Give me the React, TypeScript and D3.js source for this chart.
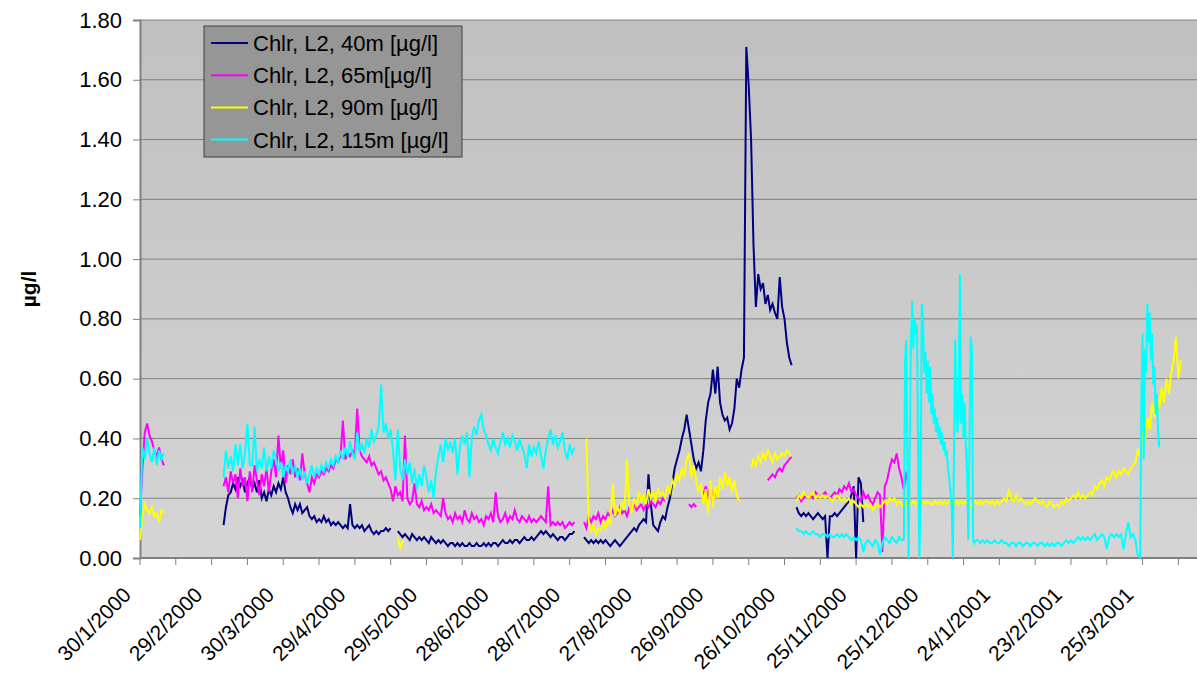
import React, { useEffect, useRef } from "react";
import * as d3 from "d3";

// one point per `step` hours from `start`; gaps in the record = separate segments
type Segment = { start: string; step?: number; values: number[] };

const seriesNames = [
  "Chlr, L2, 40m [µg/l]",
  "Chlr, L2, 65m[µg/l]",
  "Chlr, L2, 90m [µg/l]",
  "Chlr, L2, 115m [µg/l]",
];
const seriesColors = ["#000080", "#ff00ff", "#ffff00", "#00ffff"];

const yTicks = [0, 0.2, 0.4, 0.6, 0.8, 1.0, 1.2, 1.4, 1.6, 1.8];

// 40 m
const chl40: Segment[] = [
  {
    start: "2000-03-05",
    values: [
      0.11, 0.17, 0.21, 0.22, 0.25, 0.23, 0.27, 0.24, 0.26, 0.22,
      0.25, 0.27, 0.23, 0.25, 0.22, 0.26, 0.2, 0.22, 0.19, 0.23,
      0.21, 0.24, 0.22, 0.25, 0.23, 0.27, 0.22, 0.2, 0.17, 0.15,
      0.18, 0.16, 0.18, 0.15, 0.16, 0.17, 0.14, 0.13, 0.14, 0.12,
      0.13, 0.12, 0.14, 0.12, 0.13, 0.11, 0.12, 0.11, 0.12, 0.11,
      0.1, 0.11, 0.1, 0.18, 0.11, 0.1, 0.11, 0.1, 0.11, 0.09,
      0.1, 0.11, 0.09, 0.08, 0.09, 0.08, 0.09, 0.09, 0.1, 0.09,
      0.1,
    ],
  },
  {
    start: "2000-05-17",
    values: [
      0.09, 0.08, 0.07, 0.08, 0.07, 0.06, 0.08, 0.07, 0.06, 0.07,
      0.06, 0.07, 0.06, 0.05, 0.07, 0.06, 0.05, 0.06, 0.05, 0.06,
      0.05, 0.04, 0.05, 0.05, 0.04, 0.05, 0.04, 0.05, 0.04, 0.04,
      0.05, 0.04, 0.04, 0.05, 0.04, 0.04, 0.05, 0.04, 0.05, 0.04,
      0.05, 0.05, 0.04, 0.05, 0.06, 0.05, 0.05, 0.06, 0.05, 0.06,
      0.06, 0.05, 0.06, 0.07, 0.06, 0.06, 0.07, 0.06, 0.07, 0.08,
      0.09, 0.08, 0.09, 0.08, 0.07, 0.08, 0.07, 0.06, 0.07, 0.07,
      0.06, 0.07, 0.08, 0.08, 0.09,
    ],
  },
  {
    start: "2000-08-03",
    values: [
      0.07, 0.06, 0.05, 0.06, 0.05, 0.06, 0.05, 0.06, 0.05, 0.06,
      0.05, 0.04, 0.05, 0.06, 0.05, 0.04, 0.05, 0.06, 0.07, 0.08,
      0.09, 0.1, 0.09, 0.11, 0.12, 0.13, 0.12, 0.28, 0.18, 0.11,
      0.1, 0.09, 0.12, 0.14, 0.13, 0.17, 0.2, 0.25, 0.3, 0.33,
      0.36, 0.4, 0.43, 0.48, 0.43, 0.38, 0.33, 0.3, 0.32, 0.29,
      0.36, 0.46, 0.52, 0.55, 0.63, 0.55, 0.64, 0.52, 0.48, 0.46,
      0.47, 0.43, 0.45, 0.5, 0.6, 0.57, 0.63, 0.67, 1.71, 1.58,
      1.4, 1.05, 0.84, 0.95, 0.9, 0.92, 0.85, 0.88, 0.83, 0.85,
      0.82, 0.8, 0.94, 0.84, 0.8, 0.72, 0.67, 0.645,
    ],
  },
  {
    start: "2000-10-31",
    values: [
      0.17, 0.15, 0.14, 0.15, 0.14, 0.15, 0.14, 0.13, 0.14, 0.15,
      0.14, 0.13, 0.14, 0.0, 0.14, 0.14, 0.15, 0.14, 0.15, 0.16,
      0.17, 0.18, 0.19, 0.21, 0.24, 0.0, 0.27, 0.25, 0.12,
    ],
  },
];

// 65 m
const chl65: Segment[] = [
  {
    start: "2000-01-30",
    values: [0.14, 0.3, 0.42, 0.45, 0.41, 0.39, 0.36, 0.34, 0.37, 0.33, 0.31],
  },
  {
    start: "2000-03-05",
    values: [
      0.24, 0.27, 0.22, 0.29, 0.25, 0.28, 0.2, 0.3, 0.24, 0.27,
      0.19, 0.29, 0.22, 0.31, 0.26, 0.21, 0.28, 0.24, 0.3, 0.22,
      0.29, 0.33, 0.27, 0.41, 0.3, 0.36, 0.25, 0.31, 0.28, 0.33,
      0.27, 0.3, 0.26, 0.35, 0.28, 0.25, 0.22, 0.27, 0.25, 0.28,
      0.27, 0.29, 0.28, 0.3, 0.29, 0.31, 0.3, 0.33, 0.32, 0.34,
      0.46, 0.33, 0.35, 0.34, 0.36, 0.35, 0.5, 0.36, 0.34, 0.33,
      0.32, 0.34, 0.31, 0.32, 0.3, 0.28, 0.29, 0.26, 0.27, 0.25,
      0.23, 0.19, 0.24, 0.21, 0.22, 0.19, 0.41, 0.2, 0.18, 0.19,
      0.25, 0.18, 0.17, 0.19, 0.16, 0.17, 0.16, 0.18, 0.15, 0.16,
      0.15, 0.14, 0.2, 0.15, 0.13, 0.14, 0.12, 0.15, 0.13, 0.14,
      0.12, 0.16, 0.13, 0.12, 0.15, 0.13, 0.14, 0.12, 0.13, 0.11,
      0.14, 0.13, 0.15, 0.12, 0.22, 0.14, 0.12, 0.13, 0.15, 0.12,
      0.14, 0.13, 0.16, 0.13, 0.12, 0.14, 0.13, 0.12, 0.14, 0.12,
      0.13, 0.12, 0.13, 0.14, 0.13, 0.12, 0.24, 0.11, 0.12, 0.11,
      0.12, 0.11, 0.12, 0.1, 0.11, 0.12, 0.11, 0.12,
    ],
  },
  {
    start: "2000-08-03",
    values: [
      0.12, 0.1, 0.14, 0.12, 0.14, 0.13, 0.15, 0.12, 0.14, 0.13,
      0.15, 0.14, 0.16, 0.14, 0.15, 0.17, 0.15, 0.16, 0.14, 0.17,
      0.16, 0.18, 0.16, 0.17, 0.18, 0.16, 0.18, 0.17, 0.19, 0.18,
      0.17, 0.19, 0.18, 0.2, 0.19,
    ],
  },
  { start: "2000-09-16", values: [0.18, 0.17, 0.18, 0.17] },
  { start: "2000-09-22", values: [0.21, 0.24, 0.19, 0.25, 0.18, 0.23, 0.2] },
  {
    start: "2000-10-19",
    values: [0.26, 0.27, 0.28, 0.27, 0.29, 0.3, 0.29, 0.31, 0.32, 0.33, 0.34],
  },
  {
    start: "2000-10-31",
    values: [
      0.2, 0.21, 0.19, 0.2, 0.21, 0.2, 0.21, 0.2, 0.22, 0.21,
      0.2, 0.21, 0.22, 0.21, 0.2, 0.21, 0.22, 0.21, 0.23, 0.22,
      0.24, 0.23, 0.25, 0.22, 0.23, 0.21, 0.2, 0.19, 0.22, 0.2,
      0.21, 0.19, 0.18, 0.2, 0.22, 0.21, 0.02, 0.24, 0.26, 0.3,
      0.33, 0.32, 0.35, 0.3, 0.27, 0.23, 0.28, 0.26,
    ],
  },
];

// 90 m
const chl90: Segment[] = [
  {
    start: "2000-01-30",
    values: [0.06, 0.14, 0.18, 0.16, 0.15, 0.17, 0.14, 0.15, 0.12, 0.16, 0.15],
  },
  { start: "2000-05-17", values: [0.07, 0.03, 0.06] },
  {
    start: "2000-08-04",
    values: [
      0.4, 0.12, 0.09, 0.11, 0.08, 0.1, 0.09, 0.12, 0.1, 0.13,
      0.11, 0.25, 0.14, 0.17, 0.15, 0.19, 0.16, 0.33, 0.18, 0.15,
      0.2, 0.17, 0.22, 0.19, 0.21, 0.18, 0.23, 0.2, 0.22, 0.19,
      0.23, 0.21, 0.22, 0.2, 0.24, 0.22, 0.26, 0.24, 0.28, 0.26,
      0.3, 0.27, 0.33, 0.35, 0.27, 0.31, 0.26, 0.22, 0.25, 0.18,
      0.23, 0.15, 0.26, 0.17, 0.24, 0.2, 0.27, 0.23, 0.29, 0.24,
      0.27, 0.22, 0.26, 0.21, 0.19,
    ],
  },
  {
    start: "2000-10-12",
    values: [
      0.3, 0.33, 0.31, 0.34, 0.32, 0.35, 0.33, 0.36, 0.34, 0.32,
      0.35, 0.33, 0.34, 0.35, 0.34, 0.36, 0.35, 0.34,
    ],
  },
  {
    start: "2000-10-31",
    values: [
      0.19, 0.21, 0.2, 0.22, 0.21, 0.2, 0.21, 0.22, 0.2, 0.21,
      0.2, 0.21, 0.2, 0.21, 0.2, 0.19, 0.2, 0.21, 0.2, 0.19,
      0.2, 0.19, 0.2, 0.18, 0.19, 0.18, 0.17, 0.18, 0.17, 0.18,
      0.17, 0.18, 0.16, 0.17, 0.18, 0.17, 0.18, 0.19, 0.18, 0.2,
      0.19, 0.2, 0.18, 0.19, 0.18, 0.17, 0.18, 0.19, 0.18, 0.19,
      0.18, 0.19, 0.18, 0.19, 0.18, 0.19, 0.18, 0.18, 0.19, 0.18,
      0.19, 0.18, 0.19, 0.18, 0.19, 0.19, 0.18, 0.19, 0.18, 0.19,
      0.18, 0.19, 0.18, 0.17, 0.18, 0.19, 0.18, 0.19, 0.18, 0.19,
      0.19, 0.18, 0.19, 0.18, 0.19, 0.18, 0.19, 0.2, 0.19, 0.23,
      0.2, 0.19, 0.21, 0.19, 0.2, 0.19, 0.18, 0.19, 0.18, 0.19,
      0.2, 0.19, 0.18, 0.19, 0.18, 0.17, 0.19, 0.18, 0.17, 0.18,
      0.17, 0.19, 0.18, 0.2, 0.19, 0.2, 0.21, 0.2, 0.22, 0.2,
      0.21, 0.2, 0.21, 0.22, 0.21, 0.24, 0.23, 0.25, 0.26, 0.24,
      0.27, 0.26, 0.28, 0.29, 0.27, 0.29, 0.28, 0.3, 0.29, 0.28,
      0.3, 0.31, 0.32, 0.36, 0.34, 0.42, 0.39, 0.47, 0.43, 0.52,
      0.47, 0.55, 0.5, 0.57, 0.52, 0.6, 0.55, 0.62, 0.66, 0.74,
      0.6, 0.66,
    ],
  },
];

// 115 m (the winter bursts were logged twice a day)
const chl115: Segment[] = [
  {
    start: "2000-01-30",
    values: [0.1, 0.37, 0.33, 0.4, 0.35, 0.32, 0.37, 0.31, 0.36, 0.33, 0.35],
  },
  {
    start: "2000-03-05",
    values: [
      0.27, 0.36, 0.3, 0.34, 0.29, 0.38, 0.31, 0.38, 0.3, 0.35,
      0.45, 0.31, 0.31, 0.44, 0.29, 0.33, 0.3, 0.37, 0.29, 0.34,
      0.3, 0.36, 0.33, 0.29, 0.32, 0.27, 0.31, 0.29, 0.33, 0.28,
      0.31, 0.27, 0.3, 0.26, 0.29, 0.25, 0.28, 0.31, 0.27, 0.3,
      0.28, 0.31, 0.29, 0.32, 0.3, 0.33, 0.31, 0.34, 0.32, 0.36,
      0.33, 0.37, 0.34, 0.39, 0.35, 0.33, 0.42, 0.36, 0.38, 0.35,
      0.4, 0.37, 0.43, 0.39, 0.41, 0.44, 0.58, 0.42, 0.45, 0.4,
      0.43, 0.36, 0.26, 0.43, 0.3, 0.26, 0.33, 0.28, 0.32, 0.25,
      0.3, 0.23, 0.28, 0.24, 0.31, 0.27, 0.22, 0.26, 0.2, 0.29,
      0.34, 0.38, 0.32, 0.4, 0.36, 0.39, 0.35, 0.4, 0.28, 0.37,
      0.41, 0.38, 0.42, 0.27, 0.4, 0.44, 0.41, 0.46, 0.48, 0.43,
      0.41, 0.38, 0.36, 0.4, 0.37, 0.35, 0.39, 0.42, 0.38, 0.4,
      0.37, 0.41, 0.39, 0.36, 0.4, 0.37, 0.35, 0.3, 0.38, 0.34,
      0.37, 0.35, 0.39, 0.34, 0.3, 0.36, 0.4, 0.43, 0.38, 0.41,
      0.37, 0.39, 0.42, 0.36, 0.33, 0.38, 0.35, 0.37,
    ],
  },
  {
    start: "2000-10-31",
    values: [
      0.1, 0.09, 0.09, 0.08, 0.09, 0.08, 0.08, 0.09, 0.08, 0.08,
      0.07, 0.08, 0.08, 0.07, 0.08, 0.07, 0.07, 0.08, 0.07, 0.08,
      0.07, 0.08, 0.07, 0.06, 0.07, 0.06, 0.07, 0.06, 0.02, 0.05,
      0.06, 0.05, 0.04, 0.06, 0.05, 0.01, 0.05, 0.07, 0.06, 0.05,
      0.07, 0.06, 0.05, 0.07, 0.06, 0.06,
    ],
  },
  {
    start: "2000-12-15",
    step: 12,
    values: [
      0.06, 0.66, 0.73, 0.3, 0.0, 0.4, 0.73, 0.86, 0.7, 0.8,
      0.75, 0.78, 0.3, 0.0, 0.2, 0.85, 0.8, 0.62, 0.69, 0.55,
      0.66, 0.52, 0.64, 0.48, 0.55, 0.45, 0.5, 0.42, 0.47, 0.4,
      0.44, 0.38, 0.42, 0.36, 0.39, 0.34, 0.36, 0.3, 0.27, 0.22,
      0.18, 0.0, 0.35, 0.73, 0.5, 0.42, 0.6, 0.95, 0.45, 0.55,
      0.4, 0.52, 0.36, 0.28, 0.06, 0.4, 0.74, 0.7, 0.06, 0.05,
      0.06,
    ],
  },
  {
    start: "2001-01-14",
    values: [
      0.06, 0.06, 0.05, 0.06, 0.05, 0.06, 0.05, 0.05, 0.06, 0.05,
      0.05, 0.06, 0.05, 0.05, 0.04, 0.05, 0.05, 0.04, 0.05, 0.05,
      0.04, 0.05, 0.05, 0.04, 0.05, 0.05, 0.04, 0.05, 0.05, 0.04,
      0.05, 0.04, 0.05, 0.04, 0.05, 0.05, 0.04, 0.05, 0.06, 0.05,
      0.06, 0.05, 0.06, 0.07, 0.06, 0.07, 0.06, 0.07, 0.06, 0.07,
      0.08, 0.06, 0.07, 0.08, 0.07, 0.03, 0.07, 0.08, 0.07, 0.08,
      0.07, 0.08, 0.03, 0.08, 0.12, 0.07, 0.08, 0.06, 0.01, 0.0,
    ],
  },
  {
    start: "2001-03-24",
    step: 12,
    values: [
      0.0, 0.53, 0.75, 0.33, 0.7, 0.62, 0.85, 0.72, 0.82, 0.66,
      0.75, 0.58, 0.64, 0.48, 0.55, 0.42, 0.37,
    ],
  },
];

const allSeries = [chl40, chl65, chl90, chl115];

const DAY = 86400000;
const t0 = Date.UTC(2000, 0, 30);
const toPoints = (s: Segment) => {
  const base = Date.parse(s.start + "T00:00:00Z");
  const stepMs = (s.step ?? 24) * 3600000;
  return s.values.map((v, i) => ({ t: new Date(base + i * stepMs), v }));
};

const W = 1197;
const H = 675;
const plot = { left: 140, top: 20, right: 1197, bottom: 558 };
const FONT = "'Liberation Sans', Arial, sans-serif";

const App: React.FC = () => {
  const ref = useRef<SVGSVGElement>(null);

  useEffect(() => {
    const svg = d3.select(ref.current);
    svg.selectAll("*").remove();

    const x = d3
      .scaleUtc()
      .domain([new Date(t0), new Date(t0 + 442.8 * DAY)])
      .range([plot.left, plot.right]);
    const y = d3.scaleLinear().domain([0, 1.8]).range([plot.bottom, plot.top]);

    const defs = svg.append("defs");
    const grad = defs
      .append("linearGradient")
      .attr("id", "plot-bg")
      .attr("x1", 0)
      .attr("x2", 0)
      .attr("y1", 0)
      .attr("y2", 1);
    grad.append("stop").attr("offset", "0%").attr("stop-color", "#c0c0c0");
    grad.append("stop").attr("offset", "100%").attr("stop-color", "#d5d5d5");

    svg
      .append("rect")
      .attr("x", plot.left)
      .attr("y", plot.top)
      .attr("width", plot.right - plot.left)
      .attr("height", plot.bottom - plot.top)
      .attr("fill", "url(#plot-bg)");

    // gridlines
    svg
      .append("g")
      .selectAll("line")
      .data(yTicks.filter((d) => d > 0))
      .enter()
      .append("line")
      .attr("x1", plot.left)
      .attr("x2", plot.right)
      .attr("y1", (d) => y(d))
      .attr("y2", (d) => y(d))
      .attr("stroke", "#808080")
      .attr("stroke-width", 1);

    // y axis
    const gy = svg.append("g").attr("transform", `translate(${plot.left},0)`);
    gy.call(
      d3
        .axisLeft(y)
        .tickValues(yTicks)
        .tickSize(7)
        .tickPadding(11)
        .tickFormat((d) => d3.format(".2f")(d as number))
    );
    gy.select(".domain").attr("stroke", "#808080").attr("stroke-width", 2);
    gy.selectAll(".tick line").attr("stroke", "#808080");
    gy.selectAll(".tick text")
      .attr("fill", "#000")
      .style("font-family", FONT)
      .style("font-size", "22px");

    // x axis: ticks every 15 days, labels every 30
    const tickDates = d3.range(0, 442, 15).map((d) => new Date(t0 + d * DAY));
    const labelDates = tickDates.filter((_, i) => i % 2 === 0);
    const fmt = d3.utcFormat("%-d/%-m/%Y");

    const gx = svg.append("g").attr("transform", `translate(0,${plot.bottom})`);
    gx.append("line")
      .attr("x1", plot.left)
      .attr("x2", plot.right)
      .attr("stroke", "#808080")
      .attr("stroke-width", 2);
    gx.selectAll("line.tick")
      .data(tickDates)
      .enter()
      .append("line")
      .attr("class", "tick")
      .attr("x1", (d) => x(d))
      .attr("x2", (d) => x(d))
      .attr("y1", 0)
      .attr("y2", 7)
      .attr("stroke", "#808080");
    gx.selectAll("text")
      .data(labelDates)
      .enter()
      .append("text")
      .attr("transform", (d) => `translate(${x(d) - 13},33) rotate(-45)`)
      .attr("text-anchor", "end")
      .attr("dy", "0.35em")
      .style("font-family", FONT)
      .style("font-size", "21px")
      .text((d) => fmt(d));

    // series
    const line = d3
      .line<{ t: Date; v: number }>()
      .x((d) => x(d.t))
      .y((d) => y(d.v));

    allSeries.forEach((segs, i) => {
      const g = svg.append("g");
      segs.forEach((s) => {
        g.append("path")
          .datum(toPoints(s))
          .attr("fill", "none")
          .attr("stroke", seriesColors[i])
          .attr("stroke-width", 2)
          .attr("d", line);
      });
    });

    // y title
    svg
      .append("text")
      .attr("transform", `translate(29,${(plot.top + plot.bottom) / 2}) rotate(-90)`)
      .attr("text-anchor", "middle")
      .attr("dy", "0.35em")
      .style("font-family", FONT)
      .style("font-size", "21px")
      .style("font-weight", "bold")
      .text("µg/l");

    // legend
    const lg = svg.append("g").attr("transform", "translate(204,26)");
    lg.append("rect")
      .attr("width", 258)
      .attr("height", 131)
      .attr("fill", "#969696")
      .attr("stroke", "#404040")
      .attr("stroke-width", 1);
    seriesNames.forEach((name, i) => {
      const cy = 17 + i * 32.2;
      lg.append("line")
        .attr("x1", 7)
        .attr("x2", 44)
        .attr("y1", cy)
        .attr("y2", cy)
        .attr("stroke", seriesColors[i])
        .attr("stroke-width", 2);
      lg.append("text")
        .attr("x", 49)
        .attr("y", cy)
        .attr("dy", "0.36em")
        .style("font-family", FONT)
        .style("font-size", "22px")
        .text(name);
    });
  }, []);

  return (
    <svg
      ref={ref}
      width={W}
      height={H}
      style={{ position: "absolute", left: 0, top: 0, background: "#fff" }}
    />
  );
};

export default App;
